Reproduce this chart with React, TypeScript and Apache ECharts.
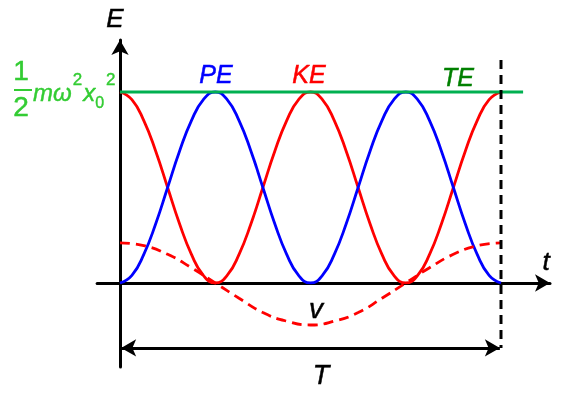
import React, { useEffect, useRef } from "react";
import * as echarts from "echarts";

// time in units of the period T
const tKE: number[] = [
  0, 0.03125, 0.0625, 0.09375, 0.125, 0.15625, 0.1875, 0.21875, 0.25,
  0.28125, 0.3125, 0.34375, 0.375, 0.40625, 0.4375, 0.46875, 0.5,
  0.53125, 0.5625, 0.59375, 0.625, 0.65625, 0.6875, 0.71875, 0.75,
  0.78125, 0.8125, 0.84375, 0.875, 0.90625, 0.9375, 0.96875, 1,
];
const keValues: number[] = [
  1, 0.96, 0.85, 0.69, 0.5, 0.31, 0.15, 0.04, 0, 0.04, 0.15, 0.31, 0.5, 0.69, 0.85, 0.96, 1,
  0.96, 0.85, 0.69, 0.5, 0.31, 0.15, 0.04, 0, 0.04, 0.15, 0.31, 0.5, 0.69, 0.85, 0.96, 1,
];
const peValues: number[] = [
  0, 0.04, 0.15, 0.31, 0.5, 0.69, 0.85, 0.96, 1, 0.96, 0.85, 0.69, 0.5, 0.31, 0.15, 0.04, 0,
  0.04, 0.15, 0.31, 0.5, 0.69, 0.85, 0.96, 1, 0.96, 0.85, 0.69, 0.5, 0.31, 0.15, 0.04, 0,
];
const tV: number[] = [
  0, 0.0625, 0.125, 0.1875, 0.25, 0.3125, 0.375, 0.4375, 0.5,
  0.5625, 0.625, 0.6875, 0.75, 0.8125, 0.875, 0.9375, 1,
];
const vValues: number[] = [
  0.21, 0.195, 0.15, 0.08, 0, -0.08, -0.155, -0.2, -0.22, -0.2, -0.155, -0.08, 0, 0.08, 0.15, 0.195, 0.21,
];
const teLevel = 1;
const teEnd = 1.058;
const periodEnd = 1;
const periodTop = 1.168;
const periodBottom = -0.34;
const arrowY = -0.34;

const FONT = '"Liberation Sans", Arial, sans-serif';

export default function App() {
  const ref = useRef<HTMLDivElement>(null);
  useEffect(() => {
    if (!ref.current) return;
    const chart = echarts.init(ref.current, undefined, { renderer: "svg" });
    const zip = (xs: number[], ys: number[]) => xs.map((x, i) => [x, ys[i]]);
    const txt = (
      text: string,
      x: number,
      y: number,
      size: number,
      fill: string,
      italic = true,
      align = "center"
    ) => ({
      type: "text",
      x,
      y,
      z: 10,
      style: {
        text,
        fill,
        stroke: fill,
        lineWidth: 0.5,
        font: `${italic ? "italic " : ""}${size}px ${FONT}`,
        textAlign: align,
        textVerticalAlign: "middle",
      },
    });
    const green = "#33cc33";
    const mStyle = {
      fontFamily: FONT,
      fontStyle: "italic",
      fontSize: 24,
      lineHeight: 42,
      fill: green,
      color: green,
      verticalAlign: "middle",
    };
    chart.setOption({
      animation: false,
      grid: { left: 97.14, right: 16, top: 40, bottom: 27 },
      xAxis: {
        type: "value",
        min: -0.06,
        max: 1.1286,
        axisLine: {
          onZero: true,
          symbol: ["none", "arrow"],
          symbolSize: [13, 15],
          lineStyle: { color: "#000", width: 3 },
        },
        axisTick: { show: false },
        axisLabel: { show: false },
        splitLine: { show: false },
      },
      yAxis: {
        type: "value",
        min: -0.44,
        max: 1.2723,
        axisLine: {
          show: true,
          onZero: true,
          symbol: ["none", "arrow"],
          symbolSize: [13, 15],
          lineStyle: { color: "#000", width: 3 },
        },
        axisTick: { show: false },
        axisLabel: { show: false },
        splitLine: { show: false },
      },
      series: [
        {
          name: "KE",
          type: "line",
          smooth: 0.5,
          showSymbol: false,
          data: zip(tKE, keValues),
          lineStyle: { color: "#ff0000", width: 2.8 },
          z: 3,
        },
        {
          name: "PE",
          type: "line",
          smooth: 0.5,
          showSymbol: false,
          data: zip(tKE, peValues),
          lineStyle: { color: "#0000ff", width: 2.8 },
          z: 3,
        },
        {
          name: "v",
          type: "line",
          smooth: 0.5,
          showSymbol: false,
          data: zip(tV, vValues),
          lineStyle: { color: "#ff0000", width: 2.8, type: [10, 6] },
          z: 3,
        },
        {
          name: "TE",
          type: "line",
          showSymbol: false,
          data: [
            [0, teLevel],
            [teEnd, teLevel],
          ],
          lineStyle: { color: "#00b050", width: 3 },
          z: 4,
        },
        {
          name: "period",
          type: "line",
          showSymbol: false,
          data: [
            [periodEnd, periodTop],
            [periodEnd, periodBottom],
          ],
          lineStyle: { color: "#000", width: 3, type: [9, 6] },
          z: 4,
          markLine: {
            silent: true,
            symbol: ["arrow", "arrow"],
            symbolSize: [13, 15],
            label: { show: false },
            lineStyle: { color: "#000", width: 3, type: "solid" },
            data: [
              [
                { coord: [0.003, arrowY] },
                { coord: [0.997, arrowY] },
              ],
            ],
          },
        },
      ],
      graphic: [
        txt("E", 115, 18, 26, "#000"),
        txt("t", 546, 261, 26, "#000"),
        txt("PE", 216, 74, 25, "#0000ff"),
        txt("KE", 309, 74, 25, "#ff0000"),
        txt("TE", 458, 77, 25, "#008000"),
        txt("v", 316, 308, 28, "#000"),
        txt("T", 321, 375, 27, "#000"),
        txt("1", 21, 70, 28, green, false),
        txt("2", 21, 106, 28, green, false),
        {
          type: "rect",
          shape: { x: 14, y: 89, width: 18, height: 2 },
          style: { fill: green },
        },
        {
          type: "text",
          x: 33,
          y: 92,
          z: 10,
          style: {
            text: "{m|mω}{sup|2}{m|x}{sub|0}{sup|2}",
            textAlign: "left",
            textVerticalAlign: "middle",
            fill: green,
            stroke: green,
            lineWidth: 0.4,
            rich: {
              m: mStyle,
              sup: {
                fontFamily: FONT,
                fontSize: 17,
                lineHeight: 17,
                fill: green,
                color: green,
                verticalAlign: "top",
                padding: [0, 1, 0, 1],
              },
              sub: {
                fontFamily: FONT,
                fontSize: 16,
                lineHeight: 16,
                fill: green,
                color: green,
                verticalAlign: "bottom",
                padding: [0, 1, 3, 0],
              },
            },
          },
        },
      ],
    });
    return () => chart.dispose();
  }, []);
  return (
    <div
      ref={ref}
      style={{ position: "fixed", left: 0, top: 0, width: 566, height: 394 }}
    />
  );
}
